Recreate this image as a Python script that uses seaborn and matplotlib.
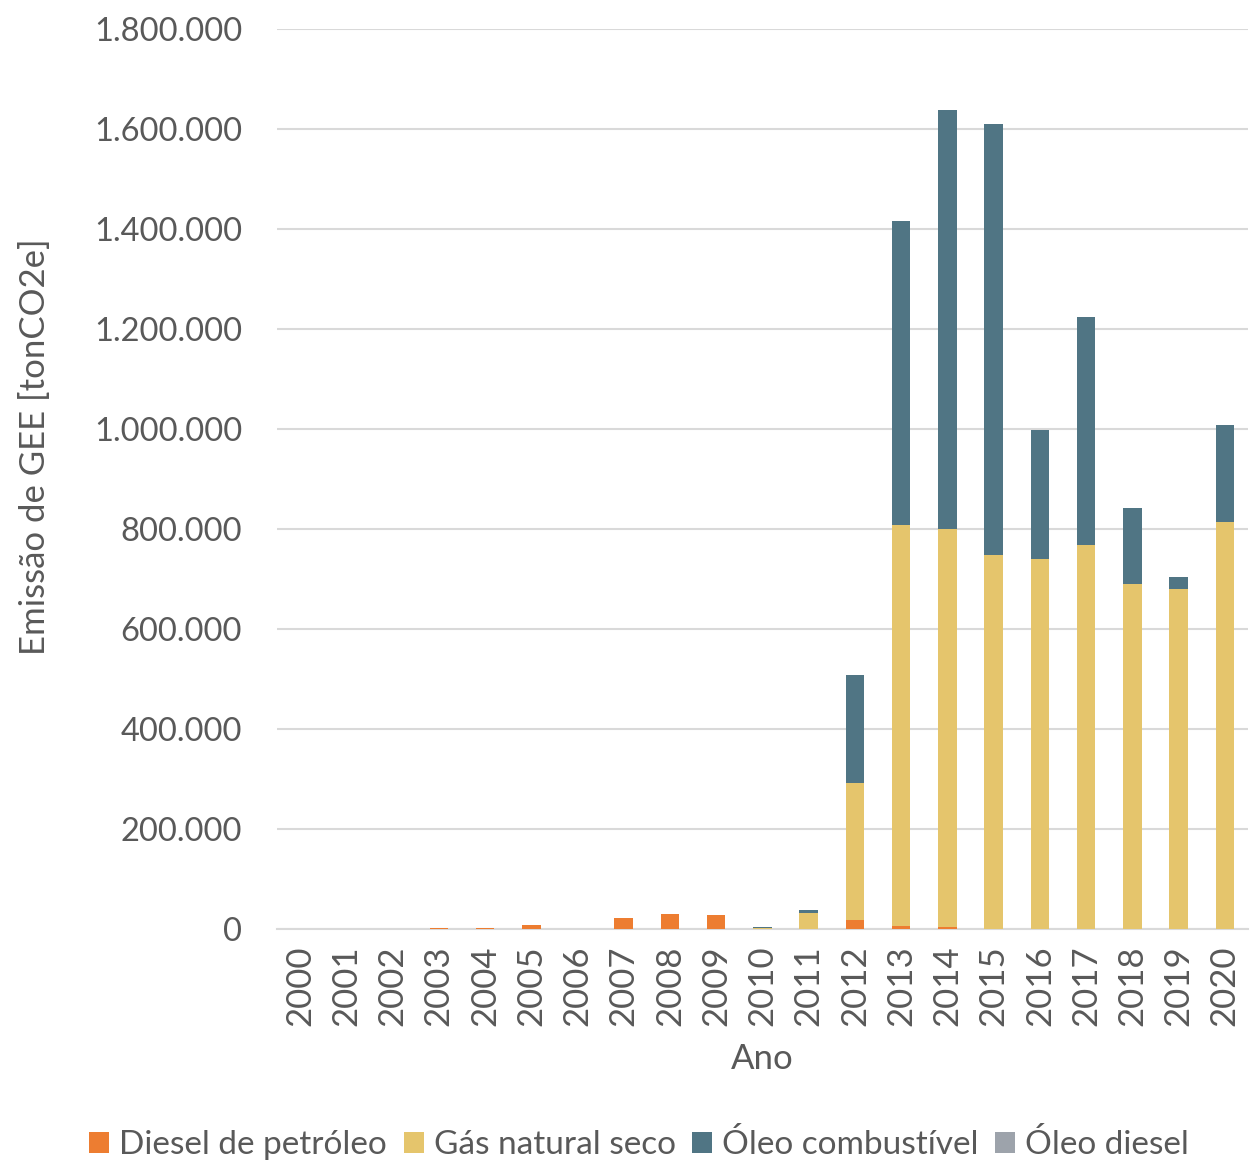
import matplotlib
matplotlib.use("Agg")
import matplotlib.pyplot as plt
from matplotlib.patches import Patch
from matplotlib.ticker import FuncFormatter
import numpy as np
import pandas as pd
import seaborn as sns

# Emissões anuais de GEE por combustível [tonCO2e]
anos = [str(a) for a in range(2000, 2021)]
diesel_petroleo = [0, 0, 0, 1500, 2500, 8000, 0, 23000, 30000, 29000, 500,
                   0, 18000, 6000, 5000, 0, 0, 0, 0, 0, 0]
gas_natural_seco = [0, 0, 0, 0, 0, 0, 0, 0, 0, 0, 2000,
                    33000, 274000, 802000, 795000, 748000, 740000, 768000, 690000, 680000, 814000]
oleo_combustivel = [0, 0, 0, 0, 0, 0, 0, 0, 0, 0, 2500,
                    6000, 216000, 608000, 838000, 862000, 258000, 456000, 152000, 24000, 194000]
oleo_diesel = [0, 0, 1000, 0, 0, 0, 0, 0, 0, 0, 0,
               0, 0, 0, 0, 0, 0, 0, 0, 0, 0]

series = ["Diesel de petróleo", "Gás natural seco", "Óleo combustível", "Óleo diesel"]
cores = ["#ED7D31", "#E5C56C", "#507584", "#9DA3AB"]

df = pd.DataFrame({
    "Ano": anos,
    series[0]: diesel_petroleo,
    series[1]: gas_natural_seco,
    series[2]: oleo_combustivel,
    series[3]: oleo_diesel,
})

sns.set_theme(style="white")
plt.rcParams["font.family"] = ["Lato", "DejaVu Sans"]
texto = "#595959"

fig = plt.figure(figsize=(12.56, 11.67), dpi=100)
ax = fig.add_axes([0.2205, 0.2039, 0.7731, 0.7712])

# empilhamento: desenha as somas acumuladas do topo para a base
acumulado = df[series].cumsum(axis=1)
for i in range(len(series) - 1, -1, -1):
    sns.barplot(x=df["Ano"], y=acumulado[series[i]], color=cores[i],
                width=0.4, saturation=1, ax=ax, zorder=3, linewidth=0)

ax.set_ylim(0, 1800000)
ax.set_xlim(-0.5, 20.5)
ax.set_yticks(np.arange(0, 1800001, 200000))
ax.yaxis.set_major_formatter(FuncFormatter(lambda v, p: f"{int(v):,}".replace(",", ".")))
ax.grid(axis="y", color="#D9D9D9", linewidth=1.5, zorder=0)
ax.grid(axis="x", visible=False)
for s in ["top", "right", "left"]:
    ax.spines[s].set_visible(False)
ax.spines["bottom"].set_color("#D9D9D9")
ax.spines["bottom"].set_linewidth(1.5)

ax.tick_params(axis="y", labelsize=23.5, labelcolor=texto, length=0, pad=25)
ax.tick_params(axis="x", labelsize=25, labelcolor=texto, length=0, pad=12, rotation=90)
ax.set_ylabel("")
ax.set_xlabel("Ano", fontsize=25, color=texto, labelpad=12)

fig.text(35 / 1256, 1 - 447 / 1167, "Emissão de GEE [tonCO2e]", rotation=90,
         fontsize=25, color=texto, ha="center", va="center")

handles = [Patch(facecolor=c, edgecolor="none") for c in cores]
fig.legend(handles, series, loc="center", bbox_to_anchor=(0.509, 1 - 1145 / 1167),
           ncol=4, frameon=False, fontsize=24, labelcolor=texto,
           handlelength=0.6, handleheight=0.6, handletextpad=0.3, columnspacing=0.5)

fig.savefig("out.png", dpi=100, facecolor="white")
